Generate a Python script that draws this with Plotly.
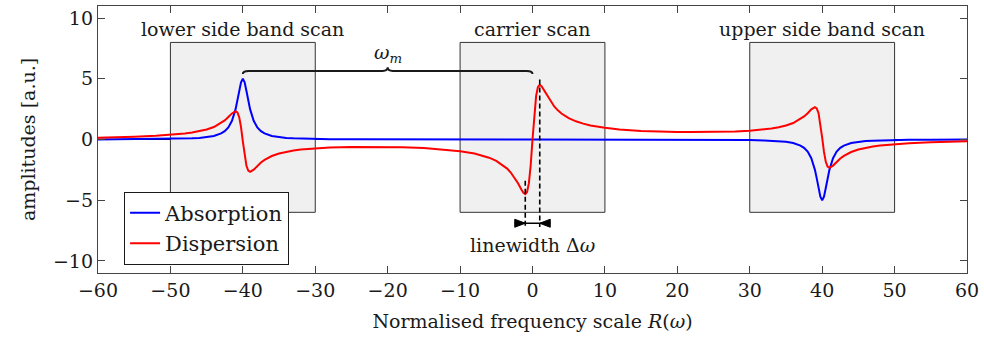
import plotly.graph_objects as go

# ---------------- data ----------------
freq = [-60, -58, -55, -52, -50, -48, -47, -46, -45, -44, -43, -42.5, -42, -41.5, -41,
        -40.75, -40.5, -40.25, -40, -39.75, -39.5, -39.25, -39, -38.5, -38, -37.5, -37,
        -36, -35, -34, -33, -32, -30, -28, -25, -22, -20, -18, -15, -12, -10, -8, -7,
        -6, -5, -4, -3.5, -3, -2.5, -2, -1.5, -1.25, -1, -0.75, -0.5, -0.25, 0,
        0.25, 0.5, 0.75, 1, 1.25, 1.5, 2, 2.5, 3, 3.5, 4, 5, 6, 7, 8, 10, 12, 15, 18,
        20, 22, 25, 28, 30, 32, 33, 34, 35, 36, 37, 37.5, 38, 38.5, 39, 39.25, 39.5,
        39.75, 40, 40.25, 40.5, 40.75, 41, 41.5, 42, 42.5, 43, 44, 45, 46, 47, 48, 50,
        52, 55, 58, 60]

absorption = [0.01, 0.02, 0.02, 0.03, 0.05, 0.08, 0.10, 0.13, 0.19, 0.29, 0.50, 0.69, 1.00, 1.54, 2.50,
              3.20, 4.00, 4.71, 5.00, 4.71, 4.00, 3.20, 2.50, 1.54, 1.00, 0.69, 0.50,
              0.29, 0.19, 0.13, 0.10, 0.08, 0.05, 0.03, 0.02, 0.01, 0.01, 0.01, 0.01, 0.00, 0.00, 0.00, 0.00,
              0.00, 0.00, 0.00, 0.00, 0.00, 0.00, 0.00, 0.00, 0.00, 0.00, 0.00, 0.00, 0.00, 0.00,
              0.00, 0.00, 0.00, 0.00, 0.00, 0.00, 0.00, 0.00, 0.00, 0.00, 0.00, 0.00, 0.00, 0.00, 0.00, 0.00, 0.00, -0.01, -0.01,
              -0.01, -0.01, -0.02, -0.03, -0.05, -0.08, -0.10, -0.13, -0.19, -0.29, -0.50, -0.69, -1.00, -1.54, -2.50, -3.20, -4.00,
              -4.71, -5.00, -4.71, -4.00, -3.20, -2.50, -1.54, -1.00, -0.69, -0.50, -0.29, -0.19, -0.13, -0.10, -0.08, -0.05,
              -0.03, -0.02, -0.02, -0.01]

dispersion = [0.15, 0.17, 0.22, 0.30, 0.37, 0.49, 0.57, 0.67, 0.82, 1.03, 1.35, 1.57, 1.85, 2.15, 2.34,
              2.24, 1.84, 1.02, -0.16, -1.34, -2.17, -2.57, -2.67, -2.48, -2.17, -1.90, -1.68,
              -1.36, -1.15, -1.01, -0.90, -0.83, -0.72, -0.66, -0.61, -0.61, -0.62, -0.64, -0.71, -0.83, -0.96, -1.16, -1.31,
              -1.50, -1.76, -2.14, -2.40, -2.72, -3.12, -3.61, -4.16, -4.40, -4.51, -4.33, -3.60, -2.12, 0.00,
              2.12, 3.60, 4.33, 4.51, 4.40, 4.16, 3.61, 3.12, 2.72, 2.40, 2.14, 1.76, 1.50, 1.31, 1.16, 0.96, 0.83, 0.71, 0.64,
              0.62, 0.61, 0.61, 0.66, 0.72, 0.83, 0.90, 1.01, 1.15, 1.36, 1.68, 1.90, 2.17, 2.48, 2.67, 2.57, 2.17,
              1.34, 0.16, -1.02, -1.84, -2.24, -2.34, -2.15, -1.85, -1.57, -1.35, -1.03, -0.82, -0.67, -0.57, -0.49, -0.37,
              -0.30, -0.22, -0.17, -0.15]

scan_names = ["lower side band scan", "carrier scan", "upper side band scan"]
scan_lo = [-50, -10, 30]
scan_hi = [-30, 10, 50]
scan_bottom = -6
scan_top = 8

x_ticks = [-60, -50, -40, -30, -20, -10, 0, 10, 20, 30, 40, 50, 60]
y_ticks = [-10, -5, 0, 5, 10]

sideband_pos = -40      # brace from lower side band to carrier
carrier_pos = 0
linewidth_lo = -1
linewidth_hi = 1

# ---------------- figure ----------------
FONT = "DejaVu Serif"
TXT = "#1a1a1a"
fig = go.Figure()

fig.add_trace(go.Scatter(x=freq, y=absorption, mode="lines", name="Absorption",
                         line=dict(color="#0000ff", width=2)))
fig.add_trace(go.Scatter(x=freq, y=dispersion, mode="lines", name="Dispersion",
                         line=dict(color="#ff0000", width=2)))

shapes = []
annotations = []
for name, lo, hi in zip(scan_names, scan_lo, scan_hi):
    shapes.append(dict(type="rect", xref="x", yref="y", x0=lo, x1=hi, y0=scan_bottom, y1=scan_top,
                       fillcolor="#f0f0f0", line=dict(color="#333333", width=1), layer="below"))
    annotations.append(dict(x=(lo + hi) / 2, y=scan_top, xref="x", yref="y", text=name,
                            showarrow=False, yanchor="bottom", yshift=0,
                            font=dict(family=FONT, size=19, color=TXT)))

# zero line
shapes.append(dict(type="line", xref="paper", yref="y", x0=0, x1=1, y0=0, y1=0,
                   line=dict(color="black", width=1), layer="below"))

# brace omega_m
by = 5.65
bm = (sideband_pos + carrier_pos) / 2
brace = (f"M {sideband_pos},{by-0.25} Q {sideband_pos},{by} {sideband_pos+0.8},{by} "
         f"L {bm-0.7},{by} Q {bm},{by} {bm},{by+0.3} Q {bm},{by} {bm+0.7},{by} "
         f"L {carrier_pos-0.8},{by} Q {carrier_pos},{by} {carrier_pos},{by-0.25}")
shapes.append(dict(type="path", xref="x", yref="y", path=brace,
                   line=dict(color=TXT, width=2)))
annotations.append(dict(x=bm, y=7.05, xref="x", yref="y", text="<i>ω</i><sub><i>m</i></sub>",
                        showarrow=False, font=dict(family=FONT, size=19, color=TXT)))

# dashed linewidth markers
shapes.append(dict(type="line", xref="x", yref="y", x0=linewidth_hi, x1=linewidth_hi, y0=4.95, y1=-7.2,
                   line=dict(color="black", width=1.6, dash="5px,3px")))
shapes.append(dict(type="line", xref="x", yref="y", x0=linewidth_lo, x1=linewidth_lo, y0=-3.4, y1=-7.2,
                   line=dict(color="black", width=1.6, dash="5px,3px")))
ay = -6.9
shapes.append(dict(type="line", xref="x", yref="y", x0=linewidth_lo - 1.45, x1=linewidth_hi + 1.45, y0=ay, y1=ay,
                   line=dict(color="black", width=1.6)))
# inward-pointing arrow heads
for tip, base in [(linewidth_lo, linewidth_lo - 1.45), (linewidth_hi, linewidth_hi + 1.45)]:
    tri = f"M {base},{ay-0.33} L {tip},{ay} L {base},{ay+0.33} Z"
    shapes.append(dict(type="path", xref="x", yref="y", path=tri, fillcolor="black",
                       line=dict(color="black", width=1)))
annotations.append(dict(x=0, y=-8.7, xref="x", yref="y", text="linewidth Δ<i>ω</i>",
                        showarrow=False, font=dict(family=FONT, size=19, color=TXT)))

fig.update_layout(
    width=984, height=339,
    margin=dict(l=98, r=13, t=5, b=66),
    paper_bgcolor="white", plot_bgcolor="white",
    font=dict(family=FONT, size=19, color=TXT),
    shapes=shapes, annotations=annotations,
    showlegend=True,
    legend=dict(x=0.03, y=0.031, xanchor="left", yanchor="bottom",
                bgcolor="white", bordercolor=TXT, borderwidth=1,
                font=dict(family=FONT, size=21), tracegroupgap=0, itemwidth=30),
    xaxis=dict(range=[-60, 60], tickvals=x_ticks, ticks="inside", ticklen=7, tickwidth=1.2,
               tickcolor="#444", showline=True, linecolor="#444", linewidth=1.3, mirror="ticks",
               showgrid=False, zeroline=False,
               title=dict(text="Normalised frequency scale <i>R</i>(<i>ω</i>)", standoff=14,
                          font=dict(family=FONT, size=19))),
    yaxis=dict(range=[-11, 11], tickvals=y_ticks, ticks="inside", ticklen=7, tickwidth=1.2,
               tickcolor="#444", showline=True, linecolor="#444", linewidth=1.3, mirror="ticks",
               showgrid=False, zeroline=False,
               title=dict(text="amplitudes [a.u.]", standoff=12, font=dict(family=FONT, size=19))),
)

fig.write_html("out.html")
